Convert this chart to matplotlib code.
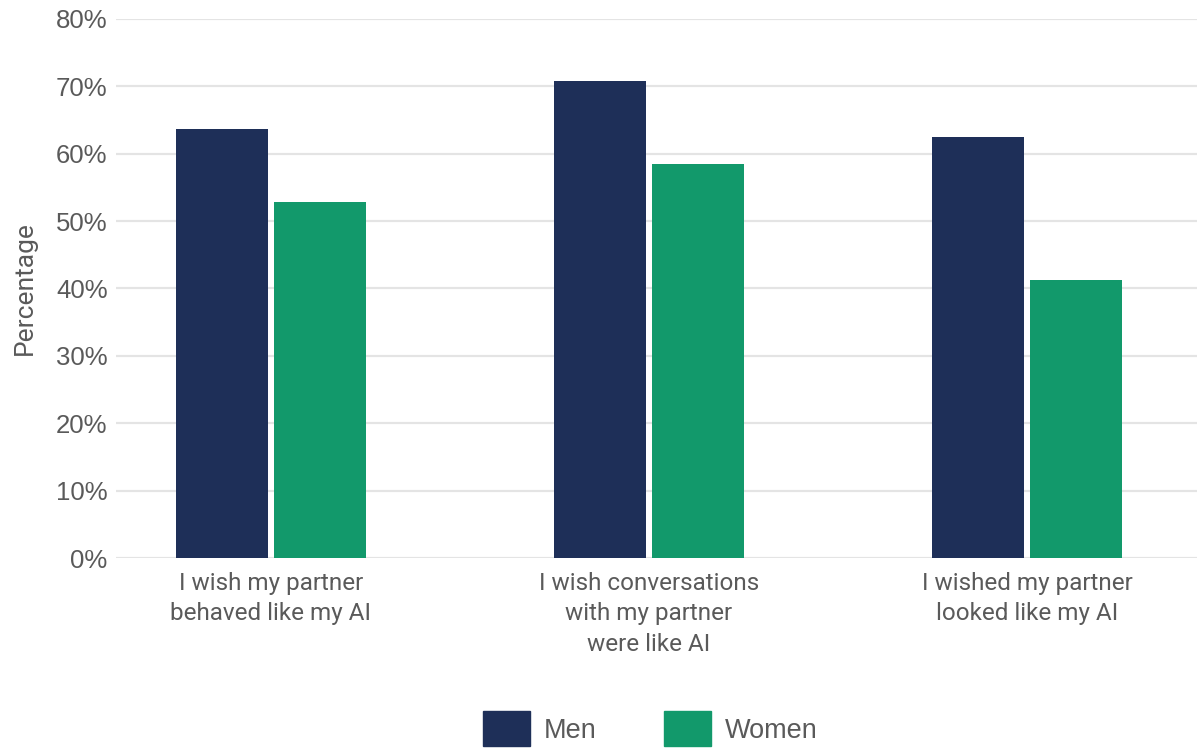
import matplotlib
matplotlib.use("Agg")
import matplotlib.pyplot as plt
import numpy as np
from matplotlib.patches import Patch

# Survey data (percentage agreeing)
categories = [
    "I wish my partner\nbehaved like my AI",
    "I wish conversations\nwith my partner\nwere like AI",
    "I wished my partner\nlooked like my AI",
]
men = [63.7, 70.8, 62.5]
women = [52.8, 58.5, 41.3]
y_ticks = [0, 10, 20, 30, 40, 50, 60, 70, 80]

MEN_COLOR = "#1e2f58"
WOMEN_COLOR = "#12996b"
TEXT_COLOR = "#5a5a5a"
GRID_COLOR = "#e4e4e4"

fig = plt.figure(figsize=(11.97, 7.48), dpi=100)
ax = fig.add_axes([0.0969, 0.254, 0.9031, 0.7207])

x = np.arange(len(categories))
width = 0.243
offset = 0.13

ax.bar(x - offset, men, width, color=MEN_COLOR, zorder=3)
ax.bar(x + offset, women, width, color=WOMEN_COLOR, zorder=3)

ax.set_ylim(0, 80)
ax.set_xlim(-0.41, 2.45)
ax.set_yticks(y_ticks)
ax.set_yticklabels([f"{t}%" for t in y_ticks])
ax.set_xticks(x)
ax.set_xticklabels(categories, family=["Roboto", "DejaVu Sans"],
                   fontsize=17.5, color=TEXT_COLOR, linespacing=1.42)

ax.yaxis.grid(True, color=GRID_COLOR, linewidth=1.6, zorder=0)
ax.set_axisbelow(True)
for s in ax.spines.values():
    s.set_visible(False)
ax.tick_params(axis="both", length=0)
ax.tick_params(axis="y", labelsize=18.5, labelcolor=TEXT_COLOR, pad=6)
ax.tick_params(axis="x", pad=10)
for lbl in ax.get_yticklabels():
    lbl.set_family(["Liberation Sans", "DejaVu Sans"])

ax.set_ylabel("Percentage", fontsize=19, color=TEXT_COLOR,
              family=["Roboto", "DejaVu Sans"], labelpad=14)

handles = [Patch(color=MEN_COLOR, label="Men"), Patch(color=WOMEN_COLOR, label="Women")]
fig.legend(handles=handles, loc="lower center", bbox_to_anchor=(0.543, -0.03), ncol=2,
           frameon=False, prop={"family": ["Liberation Sans", "DejaVu Sans"], "size": 19.5},
           labelcolor=TEXT_COLOR, handlelength=1.74, handleheight=1.6,
           handletextpad=0.5, columnspacing=2.5)

fig.savefig("out.png", dpi=100)
